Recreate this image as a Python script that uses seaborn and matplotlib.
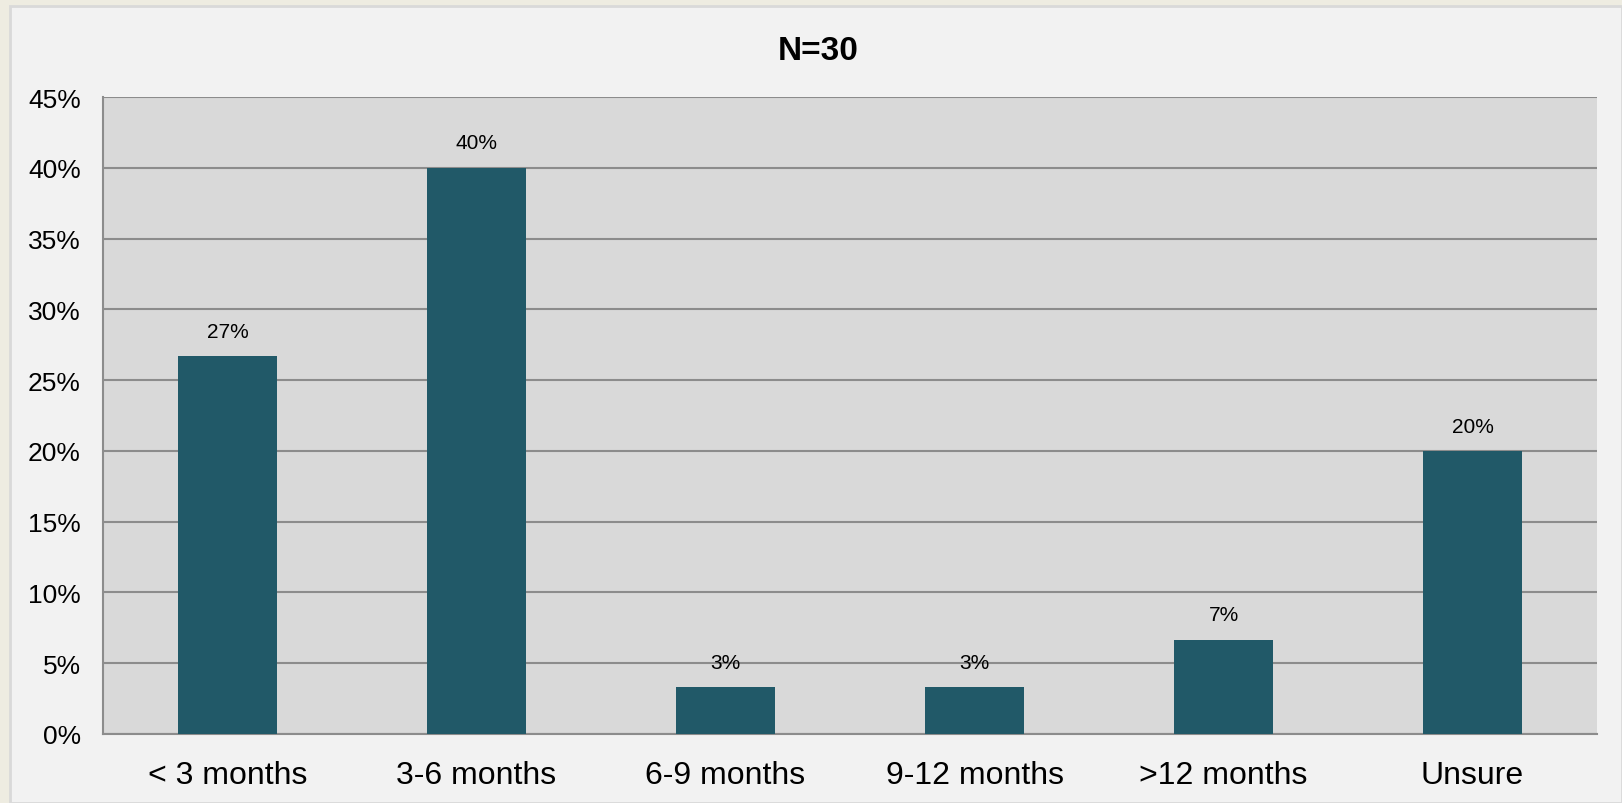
import matplotlib
matplotlib.use("Agg")
import matplotlib.pyplot as plt
from matplotlib.patches import Rectangle
import pandas as pd
import seaborn as sns

# Share of respondents per expected time frame (N=30)
categories = ["< 3 months", "3-6 months", "6-9 months", "9-12 months", ">12 months", "Unsure"]
shares = [26.67, 40.0, 3.33, 3.33, 6.67, 20.0]
y_ticks = [0, 5, 10, 15, 20, 25, 30, 35, 40, 45]
title = "N=30"

bar_color = "#215968"
grid_color = "#8C8C8C"

sns.set_theme(style="white")
plt.rcParams["font.family"] = ["Liberation Sans", "DejaVu Sans"]

df = pd.DataFrame({"category": categories, "share": shares})

fig = plt.figure(figsize=(16.22, 8.04), dpi=100)
fig.patch.set_facecolor("#EEECE1")
# light inner panel framed by a thin border, kept behind the axes
fig.patches.append(Rectangle((10 / 1622, 0), 1 - 10 / 1622, 1 - 7 / 804,
                             transform=fig.transFigure, facecolor="#F2F2F2",
                             edgecolor="#D9D9D9", linewidth=2, zorder=-10))

ax = fig.add_axes([103 / 1622, 69 / 804, (1597 - 103) / 1622, (735 - 98) / 804])
ax.set_zorder(1)
ax.set_facecolor("#D9D9D9")

sns.barplot(data=df, x="category", y="share", color=bar_color, width=0.4,
            saturation=1, linewidth=0, ax=ax, zorder=3)

ax.set_ylim(0, 45)
ax.set_yticks(y_ticks)
ax.set_yticklabels([f"{t}%" for t in y_ticks])
ax.yaxis.grid(True, color=grid_color, linewidth=1.5, zorder=0)
ax.set_axisbelow(True)
ax.set_xlabel("")
ax.set_ylabel("")

for side in ["top", "right"]:
    ax.spines[side].set_visible(False)
for side in ["left", "bottom"]:
    ax.spines[side].set_color(grid_color)
    ax.spines[side].set_linewidth(1.5)

ax.tick_params(axis="y", length=0, pad=16, labelsize=19, labelcolor="#000000")
ax.tick_params(axis="x", length=0, pad=19, labelsize=23, labelcolor="#000000")

for bar, val in zip(ax.patches, shares):
    ax.annotate(f"{val:.0f}%", (bar.get_x() + bar.get_width() / 2, bar.get_height()),
                xytext=(0, 11), textcoords="offset points", ha="center", va="bottom",
                fontsize=15, color="#000000")

fig.text(818 / 1622, 1 - 51 / 804, title, ha="center", va="center",
         fontsize=24, fontweight="bold", color="#000000")

fig.savefig("out.png", dpi=100, facecolor=fig.get_facecolor())
